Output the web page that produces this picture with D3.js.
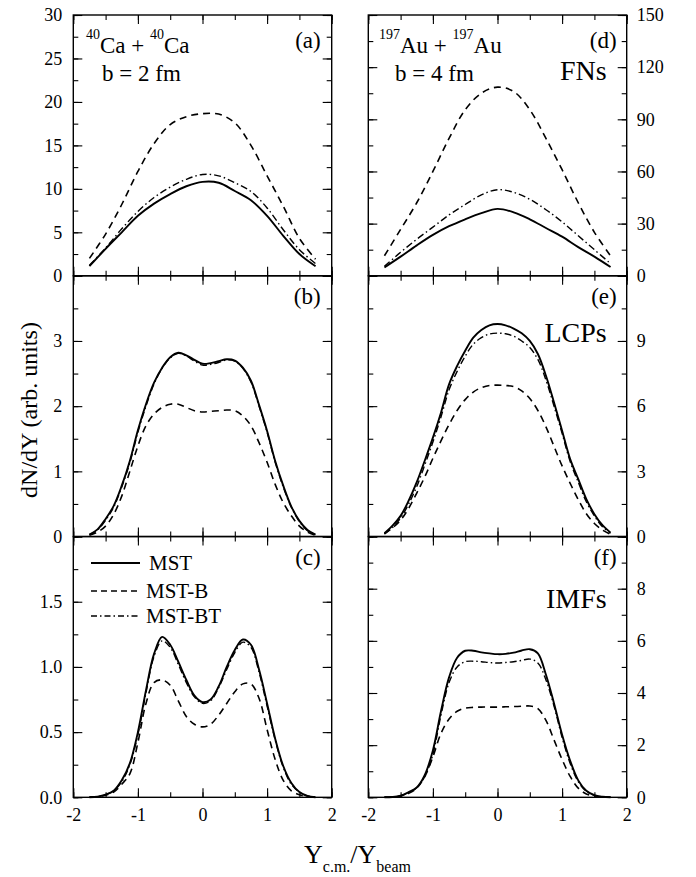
<!DOCTYPE html>
<html>
<head>
<meta charset="utf-8">
<script src="https://cdn.jsdelivr.net/npm/d3@7"></script>
<style>
  body { margin: 0; background: #fff; }
  svg text { font-family: "Liberation Serif", Tinos, "Times New Roman", Times, "DejaVu Serif", serif; fill: #000; }
</style>
</head>
<body>
<div id="chart"></div>
<script>
// rapidity grids
var yCoarse = [-1.75, -1.5, -1.25, -1, -0.75, -0.5, -0.25, 0, 0.25, 0.5, 0.75, 1, 1.25, 1.5, 1.75];
var yFine = [-1.75, -1.625, -1.5, -1.375, -1.25, -1.125, -1, -0.875, -0.75, -0.625, -0.5, -0.375, -0.25, -0.125, 0,
             0.125, 0.25, 0.375, 0.5, 0.625, 0.75, 0.875, 1, 1.125, 1.25, 1.375, 1.5, 1.625, 1.75];

// (a) Ca+Ca FNs
var caFnMST   = [1.1, 3.1, 5.0, 6.9, 8.3, 9.4, 10.3, 10.8, 10.7, 9.75, 8.7, 6.9, 4.6, 2.5, 1.1];
var caFnMSTB  = [2.0, 4.8, 8.2, 12.0, 15.2, 17.4, 18.3, 18.65, 18.6, 17.6, 15.0, 11.5, 8.0, 4.3, 1.9];
var caFnMSTBT = [1.2, 3.2, 5.4, 7.4, 9.0, 10.2, 11.1, 11.65, 11.5, 10.7, 9.7, 7.8, 5.3, 3.0, 1.4];

// (b) Ca+Ca LCPs
var caLcpMST   = [0.03, 0.11, 0.27, 0.47, 0.78, 1.16, 1.63, 2.03, 2.36, 2.59, 2.75, 2.82, 2.78, 2.71, 2.65,
                  2.66, 2.69, 2.72, 2.70, 2.59, 2.39, 2.02, 1.62, 1.16, 0.78, 0.46, 0.24, 0.1, 0.03];
var caLcpMSTB  = [0.02, 0.07, 0.16, 0.34, 0.62, 1.0, 1.39, 1.7, 1.88, 1.98, 2.03, 2.03, 1.98, 1.93, 1.91,
                  1.92, 1.93, 1.94, 1.93, 1.85, 1.7, 1.44, 1.14, 0.8, 0.52, 0.32, 0.16, 0.07, 0.02];
var caLcpMSTBT = [0.03, 0.1, 0.25, 0.45, 0.76, 1.13, 1.6, 2.0, 2.34, 2.58, 2.74, 2.81, 2.77, 2.69, 2.63,
                  2.64, 2.67, 2.71, 2.69, 2.58, 2.37, 2.0, 1.6, 1.14, 0.76, 0.45, 0.23, 0.09, 0.03];

// (c) Ca+Ca IMFs
var caImfMST   = [0.0, 0.005, 0.02, 0.05, 0.13, 0.26, 0.5, 0.82, 1.1, 1.23, 1.17, 1.04, 0.9, 0.78, 0.73,
                  0.75, 0.85, 1.0, 1.13, 1.21, 1.17, 0.98, 0.72, 0.45, 0.24, 0.11, 0.04, 0.01, 0.0];
var caImfMSTB  = [0.0, 0.005, 0.015, 0.04, 0.1, 0.18, 0.42, 0.72, 0.88, 0.9, 0.86, 0.74, 0.62, 0.56, 0.54,
                  0.56, 0.63, 0.72, 0.81, 0.87, 0.87, 0.76, 0.52, 0.29, 0.13, 0.05, 0.02, 0.005, 0.0];
var caImfMSTBT = [0.0, 0.005, 0.02, 0.05, 0.12, 0.25, 0.48, 0.8, 1.08, 1.2, 1.15, 1.02, 0.88, 0.77, 0.72,
                  0.74, 0.84, 0.98, 1.11, 1.19, 1.15, 0.96, 0.7, 0.44, 0.23, 0.1, 0.04, 0.01, 0.0];

// (d) Au+Au FNs
var auFnMST   = [4.8, 11, 17.5, 23.5, 28.5, 32.5, 36, 38.5, 36.5, 32.5, 27.5, 22.5, 16.5, 11, 5];
var auFnMSTB  = [11.5, 26.7, 42, 60, 79, 95.5, 105, 108.5, 106, 95.5, 79, 61, 42, 25, 11.5];
var auFnMSTBT = [5.5, 13.5, 21, 28, 35, 41, 46.5, 49.5, 48, 44, 38, 31, 23, 15, 7];

// (e) Au+Au LCPs
var auLcpMST   = [0.15, 0.5, 0.95, 1.65, 2.5, 3.5, 4.55, 5.7, 7.0, 7.85, 8.55, 9.15, 9.5, 9.72, 9.78,
                  9.72, 9.57, 9.35, 9.0, 8.4, 7.4, 6.17, 4.87, 3.56, 2.64, 1.72, 1.03, 0.52, 0.18];
var auLcpMSTB  = [0.12, 0.4, 0.75, 1.3, 2.0, 2.75, 3.6, 4.4, 5.15, 5.8, 6.3, 6.65, 6.85, 6.95, 6.97,
                  6.95, 6.9, 6.7, 6.35, 5.8, 5.05, 4.15, 3.25, 2.45, 1.7, 1.05, 0.6, 0.3, 0.1];
var auLcpMSTBT = [0.12, 0.42, 0.85, 1.5, 2.3, 3.3, 4.35, 5.5, 6.75, 7.6, 8.3, 8.85, 9.15, 9.32, 9.36,
                  9.33, 9.22, 9.0, 8.7, 8.15, 7.2, 6.0, 4.75, 3.45, 2.5, 1.6, 0.95, 0.45, 0.15];

// (f) Au+Au IMFs
var auImfMST   = [0, 0.01, 0.06, 0.2, 0.38, 0.86, 1.8, 3.3, 4.6, 5.35, 5.62, 5.62, 5.56, 5.52, 5.49,
                  5.5, 5.55, 5.63, 5.68, 5.52, 4.7, 3.6, 2.4, 1.4, 0.65, 0.25, 0.08, 0.02, 0];
var auImfMSTB  = [0, 0.01, 0.05, 0.15, 0.35, 0.8, 1.55, 2.45, 3.0, 3.3, 3.42, 3.45, 3.46, 3.46, 3.46,
                  3.47, 3.48, 3.49, 3.5, 3.4, 2.95, 2.2, 1.45, 0.8, 0.35, 0.13, 0.04, 0.01, 0];
var auImfMSTBT = [0, 0.01, 0.05, 0.18, 0.37, 0.8, 1.65, 3.15, 4.4, 5.0, 5.2, 5.22, 5.2, 5.17, 5.15,
                  5.17, 5.2, 5.25, 5.3, 5.15, 4.5, 3.5, 2.3, 1.3, 0.6, 0.23, 0.07, 0.02, 0];

var seriesNames = ['MST', 'MST-B', 'MST-BT'];
var xTicks = [-2, -1, 0, 1, 2];

var serif = '"Liberation Serif", Tinos, "Times New Roman", Times, "DejaVu Serif", serif';
var width = 696, height = 877;
var svg = d3.select('#chart').append('svg')
  .attr('width', width)
  .attr('height', height)
  .attr('font-family', serif);

var colLeft = [73.3, 368.3], colW = 258.4;
var rowTop = 15, rowH = 260.77;

var styles = {
  'MST': { dash: null, w: 1.9 },
  'MST-B': { dash: '7,5', w: 1.6 },
  'MST-BT': { dash: '7,3,1.5,3', w: 1.4 }
};

// plain hyphen for negatives, like the original
var intFmt = function(d) { return String(d); };

var panels = [
  { col: 0, row: 0, tag: '(a)', xs: yCoarse, data: [caFnMST, caFnMSTB, caFnMSTBT], max: 30, major: 5, minor: 2.5, fmt: intFmt, topLabel: true },
  { col: 0, row: 1, tag: '(b)', xs: yFine, data: [caLcpMST, caLcpMSTB, caLcpMSTBT], max: 4, major: 1, minor: 0.5, fmt: intFmt },
  { col: 0, row: 2, tag: '(c)', xs: yFine, data: [caImfMST, caImfMSTB, caImfMSTBT], max: 2, major: 0.5, minor: 0.25, fmt: d3.format('.1f') },
  { col: 1, row: 0, tag: '(d)', xs: yCoarse, data: [auFnMST, auFnMSTB, auFnMSTBT], max: 150, major: 30, minor: 15, fmt: intFmt, topLabel: true, name: 'FNs' },
  { col: 1, row: 1, tag: '(e)', xs: yFine, data: [auLcpMST, auLcpMSTB, auLcpMSTBT], max: 12, major: 3, minor: 1.5, fmt: intFmt, name: 'LCPs' },
  { col: 1, row: 2, tag: '(f)', xs: yFine, data: [auImfMST, auImfMSTB, auImfMSTBT], max: 10, major: 2, minor: 1, fmt: intFmt, name: 'IMFs' }
];

panels.forEach(function(p) {
  var x0 = colLeft[p.col], y0 = rowTop + p.row * rowH;
  var x = d3.scaleLinear().domain([-2, 2]).range([x0, x0 + colW]);
  var y = d3.scaleLinear().domain([0, p.max]).range([y0 + rowH, y0]);
  var g = svg.append('g');

  var majors = d3.range(0, p.max + 1e-9, p.major);
  var minors = d3.range(0, p.max + 1e-9, p.minor);
  var xMinors = d3.range(-2, 2.01, 0.5);
  var yLabel = function(d) {
    if (d >= p.max - 1e-9 && !p.topLabel) return '';
    return p.fmt(d);
  };

  // minor ticks, all four sides
  g.append('g').attr('transform', 'translate(' + x0 + ',0)')
    .call(d3.axisLeft(y).tickValues(minors).tickSize(-5).tickFormat(''));
  g.append('g').attr('transform', 'translate(' + (x0 + colW) + ',0)')
    .call(d3.axisRight(y).tickValues(minors).tickSize(-5).tickFormat(''));
  g.append('g').attr('transform', 'translate(0,' + (y0 + rowH) + ')')
    .call(d3.axisBottom(x).tickValues(xMinors).tickSize(-5).tickFormat(''));
  g.append('g').attr('transform', 'translate(0,' + y0 + ')')
    .call(d3.axisTop(x).tickValues(xMinors).tickSize(-5).tickFormat(''));

  // major ticks + labels
  g.append('g').attr('transform', 'translate(' + x0 + ',0)')
    .call(d3.axisLeft(y).tickValues(majors).tickSize(-9).tickPadding(11)
      .tickFormat(p.col == 0 ? yLabel : ''));
  g.append('g').attr('transform', 'translate(' + (x0 + colW) + ',0)')
    .call(d3.axisRight(y).tickValues(majors).tickSize(-9).tickPadding(10)
      .tickFormat(p.col == 1 ? yLabel : ''));
  g.append('g').attr('transform', 'translate(0,' + (y0 + rowH) + ')')
    .call(d3.axisBottom(x).tickValues(xTicks).tickSize(-9).tickPadding(11)
      .tickFormat(p.row == 2 ? intFmt : ''));
  g.append('g').attr('transform', 'translate(0,' + y0 + ')')
    .call(d3.axisTop(x).tickValues(xTicks).tickSize(-9).tickFormat(''));

  g.selectAll('.domain').remove();
  g.selectAll('g').attr('font-family', serif).attr('font-size', 18);
  g.selectAll('.tick line').attr('stroke', '#000').attr('stroke-width', 1.1);
  g.selectAll('.tick text').attr('fill', '#000');

  g.append('rect')
    .attr('x', x0).attr('y', y0).attr('width', colW).attr('height', rowH)
    .attr('fill', 'none').attr('stroke', '#000').attr('stroke-width', 1.4);

  var line = d3.line()
    .x(function(d) { return x(d[0]); })
    .y(function(d) { return y(d[1]); })
    .curve(d3.curveCatmullRom.alpha(0.5));

  p.data.forEach(function(vals, i) {
    var st = styles[seriesNames[i]];
    g.append('path')
      .datum(p.xs.map(function(v, j) { return [v, vals[j]]; }))
      .attr('d', line)
      .attr('fill', 'none')
      .attr('stroke', '#000')
      .attr('stroke-width', st.w)
      .attr('stroke-dasharray', st.dash);
  });

  // panel tag
  g.append('text')
    .attr('x', x0 + colW - (p.col == 0 ? 11 : 10))
    .attr('y', y0 + (p.row == 0 ? 33 : 28))
    .attr('text-anchor', 'end')
    .attr('font-size', 23)
    .text(p.tag);

  if (p.name) {
    g.append('text')
      .attr('x', x0 + colW - 20)
      .attr('y', y0 + (p.row == 1 ? 66 : (p.row == 0 ? 65 : 71)))
      .attr('text-anchor', 'end')
      .attr('font-size', 28)
      .text(p.name);
  }
});

// reaction labels
function reaction(xp, mass, el, b) {
  var t = svg.append('text').attr('x', xp).attr('y', 53).attr('font-size', 23);
  t.append('tspan').attr('font-size', 14).attr('dy', -14).text(mass);
  t.append('tspan').attr('dy', 14).text(el + ' + ');
  t.append('tspan').attr('font-size', 14).attr('dy', -14).text(mass);
  t.append('tspan').attr('dy', 14).text(el);
  svg.append('text').attr('x', xp + 16).attr('y', 81).attr('font-size', 23).text(b);
}
reaction(86, '40', 'Ca', 'b = 2 fm');
reaction(379, '197', 'Au', 'b = 4 fm');

// legend in panel (c)
var legY = [563, 591, 616];
seriesNames.forEach(function(name, i) {
  var st = styles[name];
  svg.append('line')
    .attr('x1', 91).attr('x2', 140)
    .attr('y1', legY[i]).attr('y2', legY[i])
    .attr('stroke', '#000')
    .attr('stroke-width', st.w)
    .attr('stroke-dasharray', st.dash ? (i == 1 ? '6,4' : '6,3,1.5,3') : null);
  svg.append('text')
    .attr('x', i == 0 ? 149 : 146)
    .attr('y', legY[i] + 7)
    .attr('font-size', 21)
    .text(name);
});

// axis titles
svg.append('text')
  .attr('transform', 'translate(37,410) rotate(-90)')
  .attr('text-anchor', 'middle')
  .attr('font-size', 24)
  .text('dN/dY (arb. units)');

var xt = svg.append('text').attr('x', 304).attr('y', 863).attr('font-size', 26);
xt.append('tspan').text('Y');
xt.append('tspan').attr('font-size', 16).attr('dy', 9).text('c.m.');
xt.append('tspan').attr('dy', -9).text('/Y');
xt.append('tspan').attr('font-size', 16).attr('dy', 9).text('beam');
</script>
</body>
</html>
